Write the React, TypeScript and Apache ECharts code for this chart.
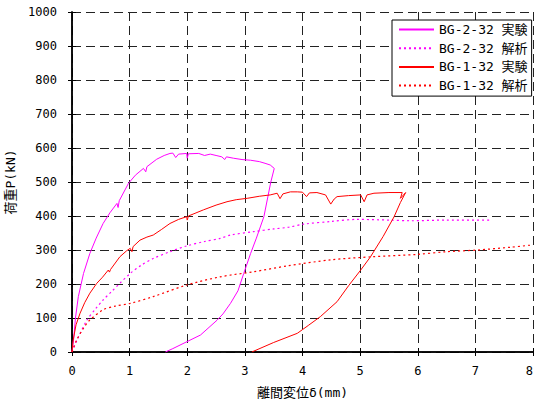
import React, { useEffect, useRef } from "react";
import * as echarts from "echarts";

const seriesNames = ["BG-2-32 実験", "BG-2-32 解析", "BG-1-32 実験", "BG-1-32 解析"];

const bg2Exp: number[][] = [
  [0, 0], [0.03, 40], [0.06, 100], [0.11, 163], [0.2, 231], [0.31, 290], [0.42, 335],
  [0.54, 378], [0.66, 410], [0.78, 437], [0.8, 425], [0.82, 445], [0.98, 496], [1.1, 520],
  [1.24, 540], [1.28, 530], [1.3, 545], [1.47, 567], [1.6, 578], [1.7, 584], [1.75, 585],
  [1.8, 572], [1.85, 582], [1.99, 584], [2.0, 570], [2.02, 583], [2.2, 584], [2.3, 578],
  [2.4, 582], [2.5, 578], [2.6, 574], [2.65, 566], [2.68, 574], [2.8, 570], [2.95, 566],
  [3.1, 564], [3.25, 560], [3.35, 555], [3.44, 550], [3.51, 540],
  [3.45, 500], [3.33, 398], [3.2, 335], [3.1, 290], [2.98, 231], [2.88, 180], [2.75, 143],
  [2.62, 112], [2.52, 94], [2.23, 50], [1.75, 10], [1.62, 0],
];

const bg2Ana: number[][] = [
  [0, 0], [0.1, 40], [0.26, 94], [0.4, 125], [0.54, 153], [0.7, 180], [0.83, 202],
  [1.01, 231], [1.2, 255], [1.41, 275], [1.7, 295], [1.99, 312], [2.3, 325], [2.57, 334],
  [2.75, 344], [3.15, 354], [3.5, 362], [3.76, 367], [4.02, 376], [4.5, 384], [4.95, 390],
  [5.5, 388], [5.88, 386], [6.5, 388], [7.24, 388],
];

const bg1Exp: number[][] = [
  [0, 0], [0.02, 35], [0.07, 80], [0.14, 114], [0.22, 145], [0.31, 173], [0.43, 202],
  [0.53, 220], [0.63, 241], [0.65, 235], [0.67, 243], [0.83, 280], [0.95, 298], [1.01, 305],
  [1.04, 295], [1.06, 310], [1.18, 329], [1.3, 338], [1.41, 344], [1.55, 360], [1.7, 378],
  [1.85, 390], [1.99, 398], [2.0, 388], [2.02, 400], [2.28, 418], [2.5, 432], [2.69, 442],
  [2.85, 448], [3.04, 452], [3.25, 458], [3.44, 462], [3.56, 467], [3.61, 451], [3.66, 465],
  [3.79, 471], [3.91, 471], [4.0, 470], [4.07, 457], [4.12, 468], [4.25, 469], [4.4, 462],
  [4.49, 435], [4.55, 450], [4.6, 457], [4.8, 460], [5.01, 462], [5.07, 442], [5.12, 462],
  [5.24, 467], [5.5, 469], [5.73, 469], [5.7, 452], [5.79, 469],
  [5.7, 440], [5.59, 398], [5.4, 340], [5.18, 280], [5.01, 241], [4.8, 195], [4.6, 148],
  [4.31, 104], [4.1, 78], [3.91, 55], [3.5, 28], [3.12, 0],
];

const bg1Ana: number[][] = [
  [0, 0], [0.08, 35], [0.2, 70], [0.31, 94], [0.54, 124], [0.75, 135], [1.01, 143],
  [1.41, 163], [1.99, 197], [2.57, 221], [3.15, 236], [3.73, 253], [4.49, 271], [5.2, 280],
  [5.99, 287], [6.5, 295], [7.04, 300], [7.6, 308], [8.0, 315],
];

const xTicks = { min: 0, max: 8, interval: 1 };
const yTicks = { min: 0, max: 1000, interval: 100 };

const FONT = "'DejaVu Sans Mono', 'Noto Sans CJK JP', monospace";

export default function App() {
  const ref = useRef<HTMLDivElement>(null);
  useEffect(() => {
    if (!ref.current) return;
    const chart = echarts.init(ref.current, undefined, { renderer: "svg" });
    const gridLine = { show: true, lineStyle: { color: "#222", width: 1, type: [9, 5] as any } };
    const axisLine = { show: true, lineStyle: { color: "#000", width: 1.5 } };
    const tick = { show: true, inside: true, length: 4, lineStyle: { color: "#000" } };
    chart.setOption({
      animation: false,
      backgroundColor: "#fff",
      textStyle: { fontFamily: FONT },
      grid: { left: 72, right: 2, top: 12, bottom: 51, containLabel: false, outerBoundsMode: "none" },
      legend: {
        left: 392,
        top: 20,
        orient: "vertical",
        data: seriesNames.map((n) => ({ name: n, itemStyle: { opacity: 0 } })),
        backgroundColor: "#fff",
        borderColor: "#000",
        borderWidth: 1,
        borderRadius: 0,
        padding: [3, 4, 4, 6],
        itemWidth: 35,
        itemHeight: 14,
        itemGap: 5.7,
        itemStyle: { opacity: 0 },
        textStyle: { fontSize: 13, color: "#000", fontFamily: FONT },
      },
      xAxis: [
        {
          type: "value",
          ...xTicks,
          name: "離間変位δ(mm)",
          nameLocation: "middle",
          nameGap: 34,
          nameTextStyle: { fontSize: 13, color: "#000", fontFamily: FONT },
          axisLine,
          axisTick: tick,
          axisLabel: { fontSize: 12, color: "#000", margin: 13, fontFamily: FONT, alignMaxLabel: "right" },
          splitLine: gridLine,
        },
        {
          type: "value",
          ...xTicks,
          position: "top",
          axisLine,
          axisTick: tick,
          axisLabel: { show: false },
          splitLine: { show: false },
        },
      ],
      yAxis: [
        {
          type: "value",
          ...yTicks,
          name: "荷重P(kN)",
          nameLocation: "middle",
          nameGap: 52,
          nameTextStyle: { fontSize: 13, color: "#000", fontFamily: FONT },
          axisLine,
          axisTick: tick,
          axisLabel: { fontSize: 12, color: "#000", margin: 15, fontFamily: FONT, formatter: (v: number) => String(v) },
          splitLine: gridLine,
        },
        {
          type: "value",
          ...yTicks,
          position: "right",
          axisLine,
          axisTick: tick,
          axisLabel: { show: false },
          splitLine: { show: false },
        },
      ],
      series: [
        {
          name: seriesNames[0], type: "line", data: bg2Exp, symbol: "none",
          lineStyle: { color: "#ff00ff", width: 1 }, itemStyle: { color: "#ff00ff" },
        },
        {
          name: seriesNames[1], type: "line", data: bg2Ana, symbol: "none", smooth: 0.3,
          lineStyle: { color: "#ff00ff", width: 1.2, type: [2, 3] }, itemStyle: { color: "#ff00ff" },
        },
        {
          name: seriesNames[2], type: "line", data: bg1Exp, symbol: "none",
          lineStyle: { color: "#ff0000", width: 1 }, itemStyle: { color: "#ff0000" },
        },
        {
          name: seriesNames[3], type: "line", data: bg1Ana, symbol: "none", smooth: 0.3,
          lineStyle: { color: "#ff0000", width: 1.2, type: [2, 3] }, itemStyle: { color: "#ff0000" },
        },
      ],
    });
    return () => chart.dispose();
  }, []);
  return <div ref={ref} style={{ width: 535, height: 403, position: "absolute", left: 0, top: 0 }} />;
}
